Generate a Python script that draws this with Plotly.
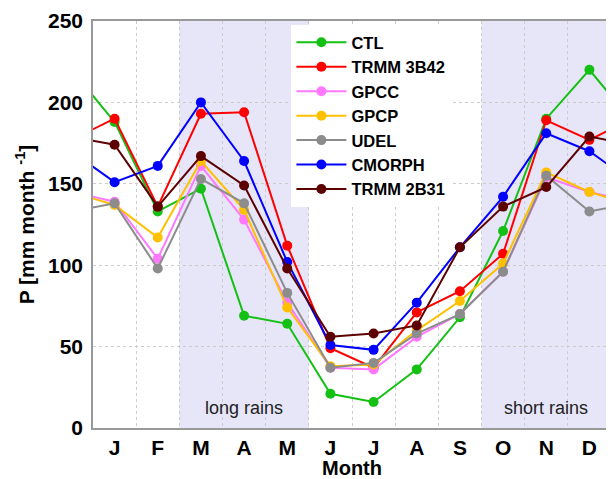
import plotly.graph_objects as go

# monthly precipitation (mm/month), Jan..Dec
months = ['J', 'F', 'M', 'A', 'M', 'J', 'J', 'A', 'S', 'O', 'N', 'D']
ctl = [188, 133, 147, 69, 64, 21, 16, 36, 68, 121, 190, 220]
trmm_3b42 = [190, 136, 193, 194, 112, 49, 37, 71, 84, 107, 189, 177]
gpcc = [139, 104, 161, 128, 77, 37, 36, 56, 70, 96, 154, 145]
gpcp = [137, 117, 164, 134, 74, 38, 39, 60, 78, 101, 157, 145]
udel = [138, 98, 153, 138, 83, 37, 40, 58, 70, 96, 155, 133]
cmorph = [151, 161, 200, 164, 102, 51, 48, 77, 111, 142, 181, 170]
trmm_2b31 = [174, 136, 167, 149, 98, 56, 58, 63, 111, 136, 148, 179]

series = [
    ('CTL', ctl, '#14c014'),
    ('TRMM 3B42', trmm_3b42, '#ff0000'),
    ('GPCC', gpcc, '#ff78ff'),
    ('GPCP', gpcp, '#ffc000'),
    ('UDEL', udel, '#8c8c8c'),
    ('CMORPH', cmorph, '#0000ff'),
    ('TRMM 2B31', trmm_2b31, '#5c0000'),
]

# rainy seasons: (label, first month, last month)
seasons = [('long rains', 3, 5), ('short rains', 10, 12)]

FONT = 'Liberation Sans'

fig = go.Figure()
# wrap the annual cycle: previous Dec at 0, next Jan at 13 (clipped by the axis)
xs = list(range(0, 14))
for name, vals, col in series:
    ys = [vals[-1]] + vals + [vals[0]]
    fig.add_trace(go.Scatter(x=xs, y=ys, name=name, legendgroup=name,
                             mode='lines+markers',
                             line=dict(color=col, width=2),
                             marker=dict(color=col, size=10)))

for label, m0, m1 in seasons:
    fig.add_shape(type='rect', xref='x', yref='paper', x0=m0 - 0.5, x1=m1 + 0.5,
                  y0=0, y1=1, fillcolor='#e6e6f8', line_width=0, layer='below')
    fig.add_annotation(x=(m0 + m1) / 2, y=12, text=label, showarrow=False,
                       font=dict(family=FONT, size=18, color='#222'))

# page body has an 8px margin, so the figure is a little smaller than the window
fig.update_layout(
    width=606, height=471,
    margin=dict(l=85, r=1, t=10, b=51),
    paper_bgcolor='white', plot_bgcolor='white',
    font=dict(family=FONT, color='black'),
    legend=dict(x=0.383, y=0.99, xanchor='left', yanchor='top',
                bgcolor='white', borderwidth=0, itemwidth=50,
                font=dict(family=FONT, size=16.5, weight='bold'),
                tracegroupgap=0),
    showlegend=True,
)
fig.update_xaxes(range=[0.5, 12.5], tickmode='array', tickvals=list(range(1, 13)),
                 ticktext=months, showgrid=False, zeroline=False,
                 showline=True, linecolor='#999', linewidth=1.5, mirror=True,
                 ticks='', ticklabelstandoff=0,
                 tickfont=dict(family=FONT, size=21, weight='bold'),
                 title=dict(text='Month', standoff=0,
                            font=dict(family=FONT, size=20, weight='bold')),
                 minor=dict(tick0=0.5, dtick=1, showgrid=True, griddash='dot',
                            gridcolor='#cccccc', gridwidth=1, ticks=''))
fig.update_yaxes(range=[0, 250], dtick=50, showgrid=True, griddash='dot',
                 gridcolor='#cccccc', gridwidth=1, zeroline=False,
                 showline=True, linecolor='#999', linewidth=1.5, mirror=True,
                 ticks='', ticklabelstandoff=4, ticklabeloverflow='allow',
                 tickfont=dict(family=FONT, size=21, weight='bold'),
                 title=dict(text='P [mm month <sup>-1</sup>]', standoff=8,
                            font=dict(family=FONT, size=21, weight='bold')))

fig.write_html('out.html')
